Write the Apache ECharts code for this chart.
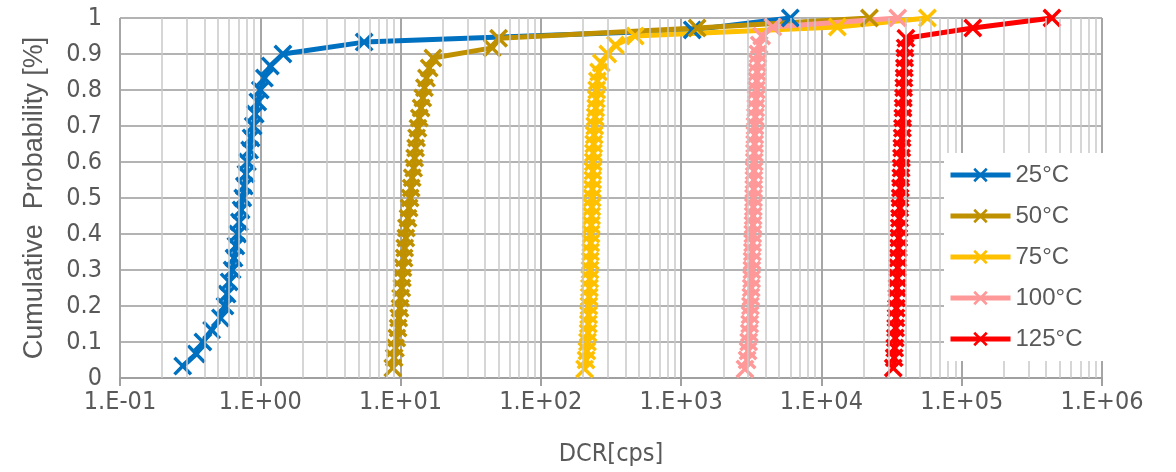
<!DOCTYPE html>
<html>
<head>
<meta charset="utf-8">
<script src="https://cdn.jsdelivr.net/npm/echarts@6/dist/echarts.min.js"></script>
<style>
  html, body { margin: 0; padding: 0; background: #fff; }
  #chart { width: 1176px; height: 472px; }
</style>
</head>
<body>
<div id="chart"></div>
<script>
// cumulative probability levels (y)
const prob30 = [0.033,0.067,0.1,0.133,0.167,0.2,0.233,0.267,0.3,0.333,0.367,0.4,0.433,0.467,0.5,
  0.533,0.567,0.6,0.633,0.667,0.7,0.733,0.767,0.8,0.833,0.867,0.9,0.933,0.967,1];
const prob36 = [0.028,0.056,0.083,0.111,0.139,0.167,0.194,0.222,0.25,0.278,0.306,0.333,0.361,0.389,0.417,0.444,0.472,0.5,
  0.528,0.556,0.583,0.611,0.639,0.667,0.694,0.722,0.75,0.778,0.806,0.833,0.861,0.889,0.917,0.944,0.972,1];
const prob40 = [0.025,0.05,0.075,0.1,0.125,0.15,0.175,0.2,0.225,0.25,0.275,0.3,0.325,0.35,0.375,0.4,0.425,0.45,0.475,0.5,
  0.525,0.55,0.575,0.6,0.625,0.65,0.675,0.7,0.725,0.75,0.775,0.8,0.825,0.85,0.875,0.9,0.925,0.95,0.975,1];

// DCR values [cps] per temperature
const dcr25 = [0.28,0.35,0.39,0.45,0.52,0.56,0.58,0.60,0.63,0.65,0.67,0.69,0.71,0.73,0.75,
  0.77,0.79,0.81,0.84,0.86,0.89,0.92,0.96,1.0,1.07,1.18,1.45,5.5,1200,6000];
const dcr50 = [8.8,9.0,9.2,9.4,9.6,9.7,9.9,10.0,10.2,10.3,10.4,10.6,10.7,10.9,11.0,11.3,11.5,11.7,
  11.9,12.1,12.4,12.6,12.8,13.0,13.3,13.6,14.0,14.4,14.8,15.3,16.0,17.0,45,50,1300,22000];
const dcr75 = [205,210,213,215,217,218,219,220,221,222,223,224,225,226,227,228,229,230,231,232,
  233,234,235,236,237,238,240,242,244,246,248,250,253,258,270,300,340,470,13000,57000];
const dcr100 = [2850,2950,3000,3030,3060,3080,3100,3120,3140,3160,3180,3190,3200,3220,3230,3240,3250,3260,3270,3280,
  3290,3300,3310,3320,3330,3340,3350,3360,3380,3400,3420,3440,3460,3480,3500,3530,3600,3750,4500,35000];
const dcr125 = [32500,33000,33300,33600,33800,34000,34200,34400,34600,34800,35000,35200,35400,35600,35800,36000,36200,36400,
  36600,36800,37000,37200,37400,37600,37800,38000,38200,38400,38600,38800,39000,39200,39500,40000,120000,440000];

const seriesNames = ['25°C', '50°C', '75°C', '100°C', '125°C'];
const seriesColors = ['#0070C0', '#BF9000', '#FFC000', '#FF9999', '#FF0000'];

const xTickLabels = ['1.E-01','1.E+00','1.E+01','1.E+02','1.E+03','1.E+04','1.E+05','1.E+06'];
// minor grid lines of the log axis (2..9 x 10^k)
const minorGrid = [];
[0.1, 1, 10, 100, 1000, 10000, 100000].forEach(d => {
  [2,3,4,5,6,7,8,9].forEach(m => minorGrid.push(+(m * d).toPrecision(3)));
});

const crossSymbol = 'path://M0,1.3L1.3,0L5,3.7L8.7,0L10,1.3L6.3,5L10,8.7L8.7,10L5,6.3L1.3,10L0,8.7L3.7,5Z';

const pairs = (xs, ys) => xs.map((x, i) => [x, ys[i]]);
const dataSets = [
  pairs(dcr25, prob30),
  pairs(dcr50, prob36),
  pairs(dcr75, prob40),
  pairs(dcr100, prob40),
  pairs(dcr125, prob36)
];

const narrow = '"Liberation Sans Narrow", "Arial Narrow", "DejaVu Sans Condensed", sans-serif';
const font = '"Liberation Sans", Arial, sans-serif';
const textColor = '#595959';

const series = dataSets.map((d, i) => ({
  name: seriesNames[i],
  type: 'line',
  data: d,
  symbol: crossSymbol,
  symbolSize: 19,
  showAllSymbol: true,
  z: 3,
  lineStyle: { width: 5, color: seriesColors[i] },
  itemStyle: { color: seriesColors[i] }
}));

series.unshift({
  type: 'line',
  data: [],
  silent: true,
  z: 1,
  markLine: {
    silent: true,
    symbol: 'none',
    label: { show: false },
    lineStyle: { color: '#c9c9c9', width: 1.5, type: 'solid' },
    data: minorGrid.map(v => ({ xAxis: v }))
  }
});

const chart = echarts.init(document.getElementById('chart'));
chart.setOption({
  animation: false,
  grid: { left: 120, right: 74, top: 18, bottom: 94 },
  legend: {
    orient: 'vertical',
    left: 944,
    top: 153,
    z: 20,
    data: seriesNames,
    backgroundColor: '#fff',
    padding: [10, 24, 10, 4],
    itemWidth: 60,
    itemHeight: 18,
    itemGap: 17,
    lineStyle: { width: 5 },
    textStyle: { fontSize: 24, color: textColor, fontFamily: font }
  },
  xAxis: {
    type: 'log',
    logBase: 10,
    min: 0.1,
    max: 1000000,
    name: 'DCR[cps]',
    nameLocation: 'middle',
    nameGap: 64,
    nameTextStyle: { fontSize: 25, color: textColor, fontFamily: narrow },
    axisLine: { show: true, lineStyle: { color: '#a0a0a0', width: 2 } },
    axisTick: { show: true, length: 8, lineStyle: { color: '#a0a0a0', width: 2 } },
    axisLabel: {
      fontSize: 25, color: textColor, fontFamily: narrow, margin: 12,
      formatter: v => xTickLabels[Math.round(Math.log10(v)) + 1]
    },
    splitLine: { show: true, lineStyle: { color: '#a6a6a6', width: 2 } },
    minorTick: { show: false },
    minorSplitLine: { show: false }
  },
  yAxis: {
    type: 'value',
    min: 0,
    max: 1,
    interval: 0.1,
    name: 'Cumulative  Probability [%]',
    nameLocation: 'middle',
    nameGap: 72,
    nameTextStyle: { fontSize: 27, color: textColor, fontFamily: font },
    axisLine: { show: false },
    axisTick: { show: false },
    axisLabel: { fontSize: 25, color: textColor, fontFamily: narrow, margin: 18 },
    splitLine: { show: true, lineStyle: { color: '#b3b3b3', width: 2 } }
  },
  series: series
});
</script>
</body>
</html>
